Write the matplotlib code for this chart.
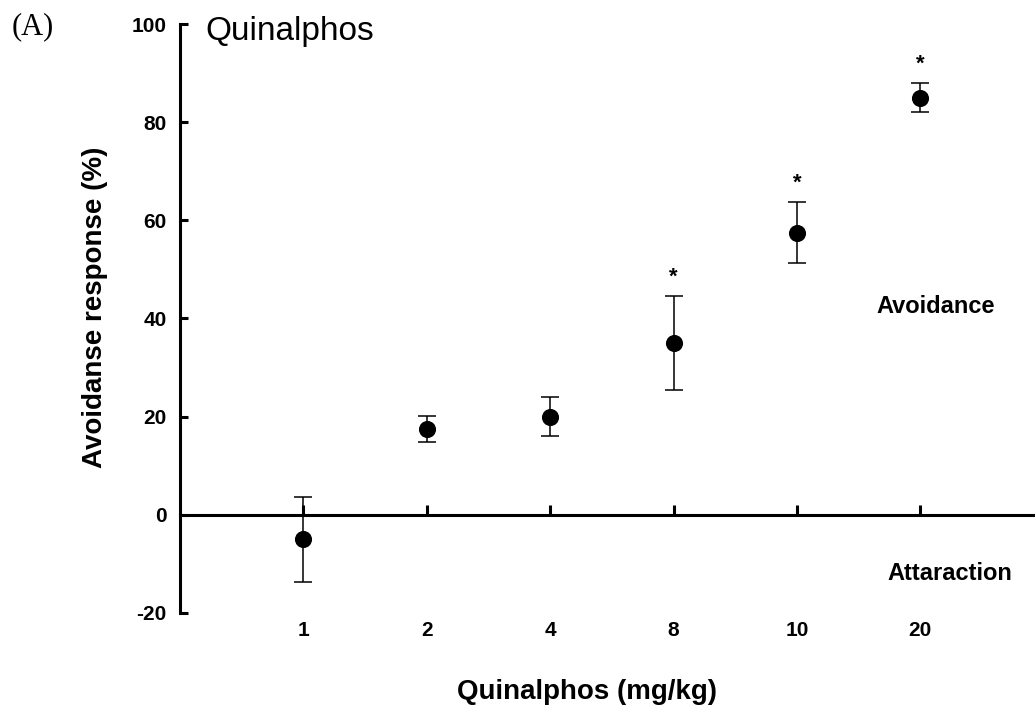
import matplotlib
matplotlib.use("Agg")
import matplotlib.pyplot as plt
import matplotlib.transforms as mtrans

categories = ["1", "2", "4", "8", "10", "20"]
means = [-5.0, 17.5, 20.0, 35.0, 57.5, 85.0]
errors = [8.7, 2.6, 4.0, 9.5, 6.2, 2.9]
significant = [False, False, False, True, True, True]
yticks = [-20, 0, 20, 40, 60, 80, 100]

SANS = "Liberation Sans"
SERIF = "Liberation Serif"

fig = plt.figure(figsize=(10.35, 7.09), dpi=100)
ax = fig.add_axes([180 / 1035, 1 - 613 / 709, 1 - 180 / 1035, (613 - 24) / 709])

x = list(range(len(categories)))
ax.errorbar(x, means, yerr=errors, fmt="o", color="black", ms=11.3, lw=1.1,
            capsize=6.2, capthick=1.1, zorder=3, clip_on=False)

for xi, m, e, s in zip(x, means, errors, significant):
    if s:
        ax.annotate("*", xy=(xi, m + e), xytext=(0, 6), textcoords="offset points",
                    ha="center", va="bottom", fontsize=16, fontweight="bold",
                    family=SANS)

ax.set_xlim(-1.0, 5.93)
ax.set_ylim(-20, 100)

for sp in ["top", "right"]:
    ax.spines[sp].set_visible(False)
ax.spines["left"].set_linewidth(2.2)
ax.spines["bottom"].set_linewidth(2.2)
ax.spines["bottom"].set_position(("data", 0))

ax.set_yticks(yticks)
ax.set_yticklabels([str(v) for v in yticks], fontsize=15, fontweight="bold", family=SANS)
ax.tick_params(axis="y", direction="in", length=6, width=2.2, pad=9.5)

ax.set_xticks(x)
ax.set_xticklabels([])
ax.tick_params(axis="x", direction="in", length=7, width=2.2)

trans = mtrans.blended_transform_factory(ax.transData, fig.transFigure)
for xi, c in zip(x, categories):
    ax.text(xi, 1 - 631 / 709, c, transform=trans, ha="center", va="center",
            fontsize=15, fontweight="bold", family=SANS)

fig.text(587 / 1035, 1 - 692 / 709, "Quinalphos (mg/kg)", ha="center", va="center",
         fontsize=20, fontweight="bold", family=SANS)
fig.text(95 / 1035, 1 - 307 / 709, "Avoidanse response (%)", ha="center", va="center",
         rotation=90, fontsize=20, fontweight="bold", family=SANS)

fig.text(205 / 1035, 1 - 40 / 709, "Quinalphos", ha="left", va="baseline",
         fontsize=24, family=SANS)
fig.text(33 / 1035, 1 - 27 / 709, "(A)", ha="center", va="center",
         fontsize=22, family=SERIF)
fig.text(936 / 1035, 1 - 306.5 / 709, "Avoidance", ha="center", va="center",
         fontsize=17, fontweight="bold", family=SANS)
fig.text(950 / 1035, 1 - 573 / 709, "Attaraction", ha="center", va="center",
         fontsize=17, fontweight="bold", family=SANS)

fig.savefig("out.png", dpi=100)
